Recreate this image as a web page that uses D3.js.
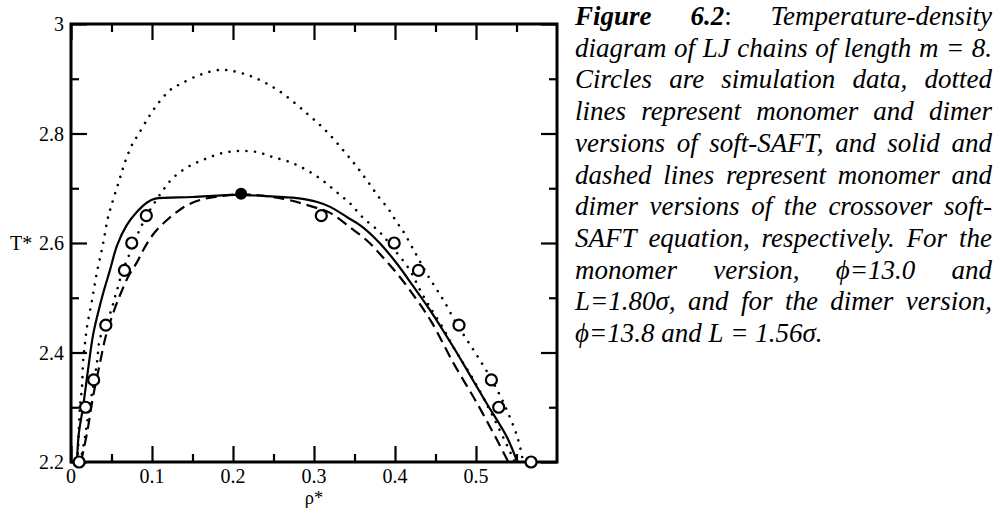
<!DOCTYPE html>
<html><head><meta charset="utf-8">
<script src="https://cdn.jsdelivr.net/npm/d3@7"></script>
<style>body{margin:0;background:#fff}</style>
</head><body>
<svg id="c" width="994" height="509"></svg>
<script>
// ---- data ----
const simRho = [0.010, 0.018, 0.028, 0.043, 0.066, 0.075, 0.093, 0.309, 0.399, 0.429, 0.479, 0.519, 0.528, 0.568];
const simT   = [2.20, 2.30, 2.35, 2.45, 2.55, 2.60, 2.65, 2.65, 2.60, 2.55, 2.45, 2.35, 2.30, 2.20];
const critRho = [0.21];
const critT   = [2.69];

// solid: monomer crossover soft-SAFT
const solidRho = [0.0074,0.0095,0.0148,0.021,0.027,0.033,0.040,0.048,0.057,0.069,0.0815,0.094,0.104,0.15,0.205,0.237,0.279,0.304,0.320,0.341,0.360,0.381,0.402,0.422,0.443,0.472,0.494,0.514,0.538,0.551];
const solidT   = [2.20,2.25,2.30,2.368,2.43,2.47,2.51,2.55,2.596,2.633,2.657,2.674,2.681,2.684,2.688,2.686,2.682,2.675,2.666,2.647,2.629,2.600,2.563,2.522,2.478,2.410,2.355,2.305,2.246,2.20];

// dashed: dimer crossover soft-SAFT
const dashRho = [0.0123,0.0198,0.0272,0.0358,0.043,0.054,0.062,0.0704,0.0815,0.0914,0.1037,0.1185,0.1309,0.1432,0.163,0.1877,0.21,0.258,0.299,0.320,0.344,0.365,0.385,0.406,0.427,0.445,0.472,0.501,0.526,0.540];
const dashT   = [2.20,2.253,2.319,2.381,2.43,2.48,2.51,2.538,2.565,2.593,2.620,2.642,2.657,2.669,2.680,2.686,2.689,2.682,2.666,2.655,2.629,2.605,2.574,2.538,2.496,2.456,2.381,2.308,2.240,2.20];

// dotted: monomer soft-SAFT (outer)
const monoRho = [0.0074,0.0086,0.011,0.0136,0.0148,0.0173,0.0198,0.026,0.0296,0.0333,0.038,0.042,0.0457,0.050,0.0605,0.0667,0.0765,0.0827,0.095,0.107,0.122,0.1346,0.159,0.183,0.2,0.225,0.2556,0.291,0.316,0.338,0.353,0.367,0.380,0.392,0.402,0.409,0.425,0.44,0.452,0.462,0.475,0.488,0.501,0.5136,0.526,0.538,0.551,0.557,0.558];
const monoT   = [2.20,2.222,2.30,2.337,2.381,2.417,2.447,2.496,2.527,2.556,2.587,2.618,2.647,2.669,2.719,2.748,2.783,2.797,2.828,2.854,2.879,2.89,2.907,2.916,2.914,2.903,2.879,2.837,2.803,2.766,2.739,2.711,2.684,2.662,2.638,2.624,2.582,2.542,2.514,2.49,2.455,2.425,2.395,2.365,2.332,2.295,2.246,2.209,2.20];

// dotted: dimer soft-SAFT (inner)
const dimRho = [0.011,0.0136,0.0173,0.021,0.026,0.032,0.0358,0.048,0.056,0.064,0.0753,0.085,0.0975,0.112,0.126,0.1444,0.165,0.186,0.207,0.23,0.249,0.27,0.291,0.31,0.328,0.344,0.360,0.381,0.398,0.4185,0.431,0.443,0.458,0.474,0.497,0.522,0.548];
const dimT   = [2.20,2.216,2.246,2.282,2.326,2.381,2.426,2.47,2.51,2.55,2.59,2.625,2.66,2.693,2.719,2.739,2.753,2.764,2.768,2.766,2.757,2.748,2.733,2.715,2.693,2.673,2.647,2.62,2.59,2.55,2.514,2.483,2.448,2.405,2.35,2.28,2.20];

const xMajor = [0, 0.1, 0.2, 0.3, 0.4, 0.5];
const xMinor = [0.05, 0.15, 0.25, 0.35, 0.45, 0.55];
const yMajor = [2.2, 2.4, 2.6, 2.8, 3.0];
const yMinor = [2.3, 2.5, 2.7, 2.9];
const yTickLabels = ["2.2", "2.4", "2.6", "2.8", "3"];
const xTickLabels = ["0", "0.1", "0.2", "0.3", "0.4", "0.5"];

const captionLines = [
  "Figure 6.2: Temperature-density",
  "diagram of LJ chains of length m = 8.",
  "Circles are simulation data, dotted",
  "lines represent monomer and dimer",
  "versions of soft-SAFT, and solid and",
  "dashed lines represent monomer and",
  "dimer versions of the crossover soft-",
  "SAFT equation, respectively. For the",
  "monomer version, \u03D5=13.0 and",
  "L=1.80\u03C3, and for the dimer version,",
  "\u03D5=13.8 and L = 1.56\u03C3."
];

// ---- layout ----
const FF = '"Liberation Serif", "Times New Roman", Times, serif';
const svg = d3.select("#c");
const L = 71, R = 557, T = 24, B = 462;
const x = d3.scaleLinear().domain([0, 0.6]).range([L, R]);
const y = d3.scaleLinear().domain([2.2, 3.0]).range([B, T]);

function tickAxis(axisFn, scale, vals, size, transform) {
  const g = svg.append("g").attr("transform", transform)
    .call(axisFn(scale).tickValues(vals).tickSize(-size).tickSizeOuter(0).tickFormat(""));
  g.select(".domain").remove();
  g.selectAll("line").attr("stroke", "#000").attr("stroke-width", 2.2);
  return g;
}
tickAxis(d3.axisBottom, x, xMajor, 16, `translate(0,${B})`);
tickAxis(d3.axisBottom, x, xMinor, 8, `translate(0,${B})`);
tickAxis(d3.axisTop, x, xMajor, 16, `translate(0,${T})`);
tickAxis(d3.axisTop, x, xMinor, 8, `translate(0,${T})`);
tickAxis(d3.axisLeft, y, yMajor, 16, `translate(${L},0)`);
tickAxis(d3.axisLeft, y, yMinor, 8, `translate(${L},0)`);
tickAxis(d3.axisRight, y, yMajor, 16, `translate(${R},0)`);
tickAxis(d3.axisRight, y, yMinor, 8, `translate(${R},0)`);

svg.append("rect").attr("x", L).attr("y", T).attr("width", R - L).attr("height", B - T)
  .attr("fill", "none").attr("stroke", "#000").attr("stroke-width", 3);

// tick labels
svg.append("g").selectAll("text").data(yMajor).join("text")
  .attr("x", L - 7).attr("y", d => y(d)).attr("dy", "0.35em")
  .attr("text-anchor", "end").style("font-family", FF).style("font-size", "20px")
  .text((d, i) => yTickLabels[i]);
svg.append("g").selectAll("text").data(xMajor).join("text")
  .attr("x", d => x(d)).attr("y", B + 21)
  .attr("text-anchor", "middle").style("font-family", FF).style("font-size", "20px")
  .text((d, i) => xTickLabels[i]);
svg.append("text").attr("x", 10).attr("y", y(2.6)).attr("dy", "0.35em")
  .style("font-family", FF).style("font-size", "20px").text("T*");
svg.append("text").attr("x", x(0.3)).attr("y", 504).attr("text-anchor", "middle")
  .style("font-family", FF).style("font-size", "18.5px").text("\u03C1*");

// curves
const line = d3.line().x(d => x(d[0])).y(d => y(d[1])).curve(d3.curveCatmullRom.alpha(0.5));
const zip = (a, b) => a.map((v, i) => [v, b[i]]);
svg.append("clipPath").attr("id", "plotclip").append("rect")
  .attr("x", L).attr("y", T).attr("width", R - L).attr("height", B - T);
const cg = svg.append("g").attr("clip-path", "url(#plotclip)");
function curve(rho, t, dash, w, cap) {
  cg.append("path").attr("d", line(zip(rho, t))).attr("fill", "none")
    .attr("stroke", "#000").attr("stroke-width", w)
    .attr("stroke-dasharray", dash).attr("stroke-linecap", cap);
}
curve(monoRho, monoT, "0.01,8.5", 2.6, "round");
curve(dimRho, dimT, "0.01,8.5", 2.6, "round");
curve(dashRho, dashT, "11,6", 2.2, "butt");
curve(solidRho, solidT, null, 2.2, "butt");

// simulation points
svg.append("g").selectAll("circle").data(zip(simRho, simT)).join("circle")
  .attr("cx", d => x(d[0])).attr("cy", d => y(d[1])).attr("r", 5.5)
  .attr("fill", "#fff").attr("stroke", "#000").attr("stroke-width", 2.2);
svg.append("g").selectAll("circle").data(zip(critRho, critT)).join("circle")
  .attr("cx", d => x(d[0])).attr("cy", d => y(d[1])).attr("r", 6)
  .attr("fill", "#000");

// caption, justified
const capX0 = 575, capX1 = 992, capY0 = 25, capLH = 31.7, capFS = 27;
captionLines.forEach((ln, i) => {
  const words = ln.split(" ");
  const nodes = words.map(w => {
    const t = svg.append("text").attr("y", capY0 + i * capLH)
      .style("font-family", FF).style("font-size", capFS + "px").style("font-style", "italic");
    if (i === 0 && w === "Figure") t.append("tspan").style("font-weight", "bold").text(w);
    else if (i === 0 && w === "6.2:") {
      t.append("tspan").style("font-weight", "bold").text("6.2");
      t.append("tspan").style("font-style", "normal").text(":");
    } else t.text(w);
    return t;
  });
  const widths = nodes.map(n => n.node().getComputedTextLength());
  const last = i === captionLines.length - 1;
  let gap = last ? capFS * 0.25 : (capX1 - capX0 - d3.sum(widths)) / (words.length - 1);
  let cx = capX0;
  nodes.forEach((n, j) => { n.attr("x", cx); cx += widths[j] + gap; });
});
</script>
</body></html>
